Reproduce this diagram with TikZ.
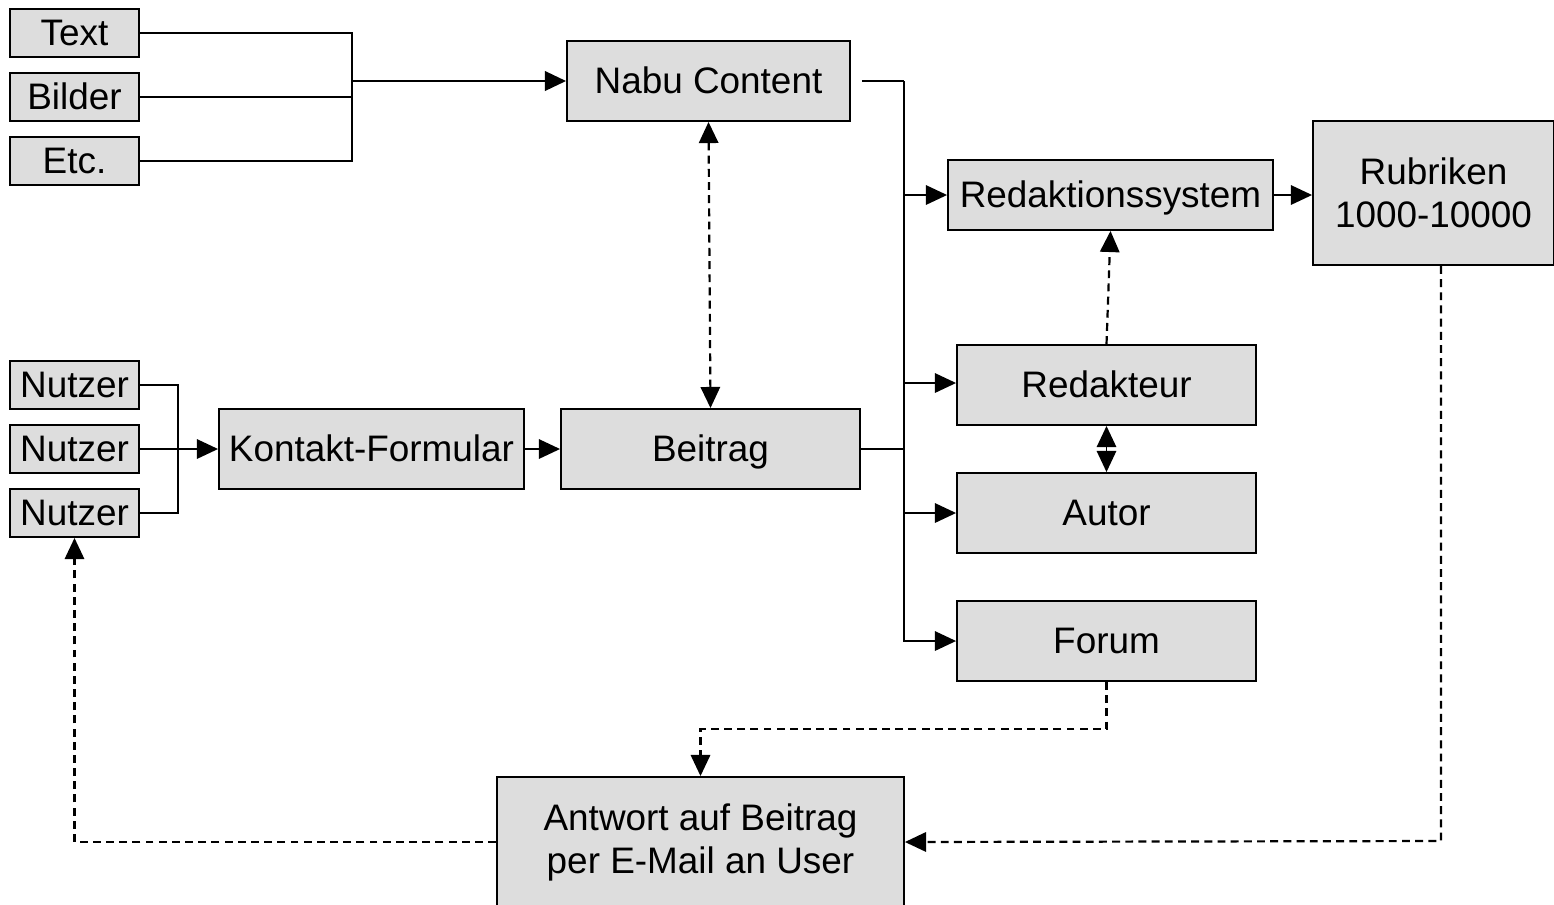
\documentclass[tikz,border=0pt]{standalone}
\usepackage{fontspec}
\setmainfont{Liberation Sans}
\usetikzlibrary{positioning,arrows.meta}
\definecolor{boxgray}{RGB}{221,221,221}

\begin{document}
\begin{tikzpicture}[x=0.02cm, y=-0.02cm,
    box/.style={draw, fill=boxgray, line width=1.1pt, inner sep=2pt,
      font=\fontsize{21}{24.5}\selectfont, align=center},
    line1/.style={box, text height=18.9pt, text depth=4.2pt},
    small/.style={line1, minimum width=2.58cm, minimum height=0.96cm},
    wide/.style={line1, minimum width=5.98cm, minimum height=1.6cm},
    conn/.style={line width=1.1pt},
    arr/.style={conn, -{Triangle[length=12pt, width=11pt]}},
    darr/.style={arr, line width=1.25pt, dash pattern=on 4.5pt off 3pt}]
  \useasboundingbox (0,0) rectangle (1554,904);

  % --- inputs (top left) ---
  \node[small] (text)   at (74.5,33)  {Text};
  \node[small] (bilder) at (74.5,97)  {Bilder};
  \node[small] (etc)    at (74.5,161) {Etc.};

  % --- users (left) ---
  \node[small] (nutzerA) at (74.5,385) {Nutzer};
  \node[small] (nutzerB) at (74.5,449) {Nutzer};
  \node[small] (nutzerC) at (74.5,513) {Nutzer};

  % --- middle column ---
  \node[line1, minimum width=5.66cm, minimum height=1.6cm] (nabu) at (708.5,81) {Nabu Content};
  \node[line1, minimum width=6.1cm, minimum height=1.6cm] (kontakt) at (371.5,449) {Kontakt-Formular};
  \node[wide] (beitrag) at (710.5,449) {Beitrag};

  % --- right column ---
  \node[line1, minimum width=6.5cm, minimum height=1.4cm] (redsys) at (1110.5,195) {Redaktionssystem};
  \node[box, minimum width=4.82cm, minimum height=2.88cm] (rubriken) at (1433.5,193) {Rubriken\\1000-10000};
  \node[wide] (redakteur) at (1106.5,385) {Redakteur};
  \node[wide] (autor)     at (1106.5,513) {Autor};
  \node[wide] (forum)     at (1106.5,641) {Forum};

  % --- answer (bottom) ---
  \node[box, minimum width=8.14cm, minimum height=2.6cm] (antwort) at (700.5,842)
    {Antwort auf Beitrag\\per E-Mail an User};

  % junction points
  \coordinate (jin)   at (352,81);
  \coordinate (jnutz) at (178,449);
  \coordinate (busT)  at (904,81);
  \coordinate (fturn) at (1106.5,729);
  \coordinate (rturn) at (1441,841);

  % inputs -> Nabu Content
  \draw[conn] (text.east) -| (jin);
  \draw[conn] (etc.east) -| (jin);
  \draw[conn] (bilder.east) -- (bilder.east -| jin);
  \draw[arr, line width=1.5pt] (jin) -- (nabu.west);

  % users -> form -> Beitrag
  \draw[conn] (nutzerA.east) -| (jnutz);
  \draw[conn] (nutzerC.east) -| (jnutz);
  \draw[arr] (nutzerB.east) -- (kontakt.west);
  \draw[arr] (kontakt.east) -- (beitrag.west);
  \draw[darr, {Triangle[length=12pt, width=11pt]}-{Triangle[length=12pt, width=11pt]}]
    (nabu.south) -- (beitrag.north);

  % bus to the right column
  \draw[conn] ([xshift=0.22cm]nabu.east) -- (busT);
  \draw[arr] (busT) |- (forum.west);
  \draw[conn] (beitrag.east) -- (beitrag.east -| busT);
  \draw[arr] (busT |- redsys.west) -- (redsys.west);
  \draw[arr] (busT |- 0,383) -- (redakteur.west |- 0,383);
  \draw[arr] (busT |- autor.west) -- (autor.west);

  % right column links
  \draw[arr] (redsys.east) -- (redsys.east -| rubriken.west);
  \draw[darr] (redakteur.north) -- (redsys.south);
  \draw[arr, {Triangle[length=12pt, width=11pt]}-{Triangle[length=12pt, width=11pt]}]
    (redakteur.south) -- (autor.north);

  % answers (dashed)
  \draw[darr] (forum.south) -- (fturn) -| (antwort.north);
  \draw[darr] (rubriken.south -| rturn) -- (rturn) -- (antwort.east);
  \draw[darr] (antwort.west) -| (nutzerC.south);

\end{tikzpicture}
\end{document}
